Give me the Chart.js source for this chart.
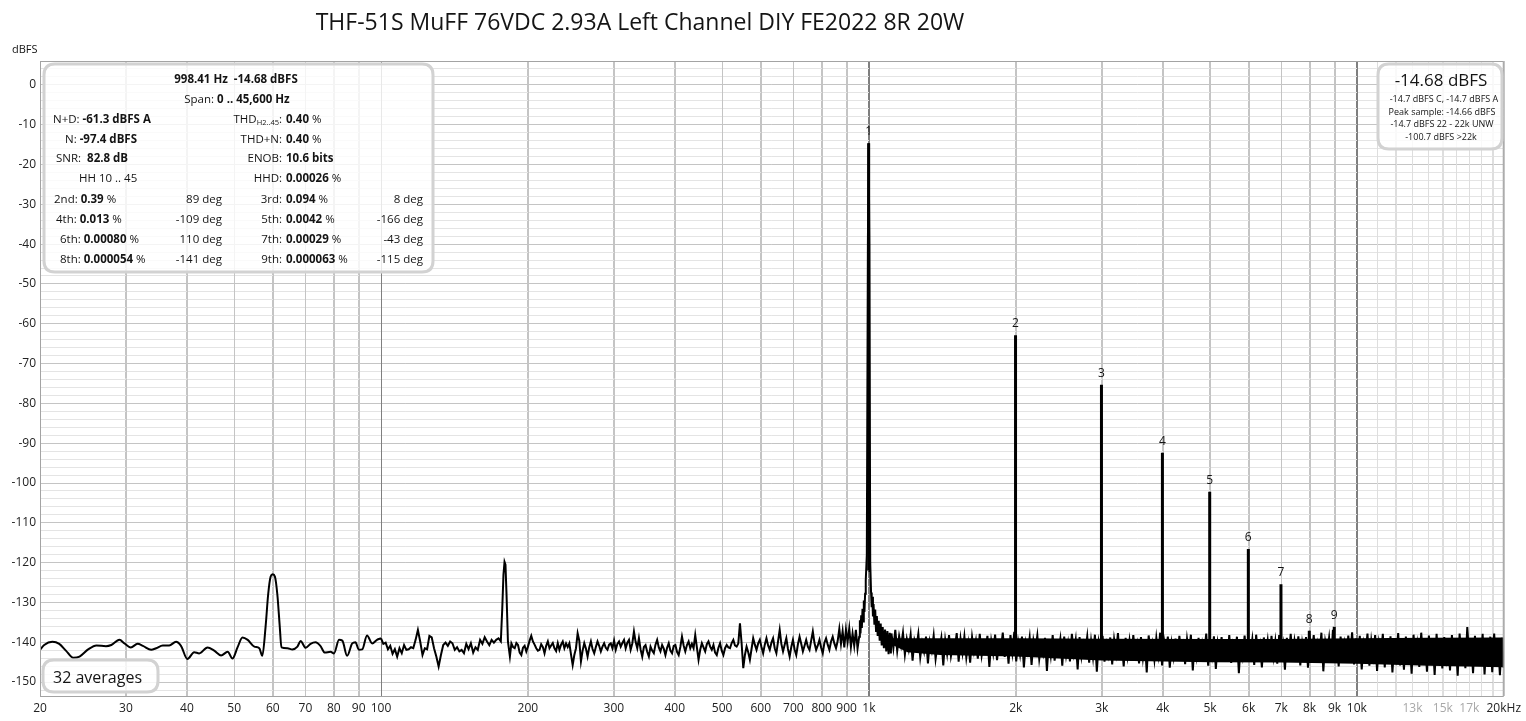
<!DOCTYPE html>
<html><head><meta charset="utf-8">
<script src="https://cdn.jsdelivr.net/npm/chart.js@4.4.1/dist/chart.umd.min.js"></script>
<style>html,body{margin:0;padding:0;background:#fff;overflow:hidden}canvas{display:block}</style>
</head><body>
<canvas id="c" width="1526" height="721"></canvas>
<script>
const titleText = "THF-51S MuFF 76VDC 2.93A Left Channel DIY FE2022 8R 20W";
const yUnit = "dBFS";

const yTickDb = [-152,-150,-148,-146,-144,-142,-140,-138,-136,-134,-132,-130,-128,-126,-124,-122,-120,-118,-116,-114,-112,-110,-108,-106,-104,-102,-100,-98,-96,-94,-92,-90,-88,-86,-84,-82,-80,-78,-76,-74,-72,-70,-68,-66,-64,-62,-60,-58,-56,-54,-52,-50,-48,-46,-44,-42,-40,-38,-36,-34,-32,-30,-28,-26,-24,-22,-20,-18,-16,-14,-12,-10,-8,-6,-4,-2,0,2,4,6];
const xTickHz = [20,30,40,50,60,70,80,90,100,200,300,400,500,600,700,800,900,1000,2000,3000,4000,5000,6000,7000,8000,9000,10000,11000,12000,13000,14000,15000,16000,17000,18000,19000,20000];
const xTickLabels = ["20","30","40","50","60","70","80","90","100","200","300","400","500","600","700","800","900","1k","2k","3k","4k","5k","6k","7k","8k","9k","10k","","","13k","","15k","","17k","","","20kHz"];
const xTickMutedHz = [13000,15000,17000];
const xDecadeHz = [100,1000,10000];
const xFineHz = [11000,12000,13000,14000,15000,16000,17000,18000,19000];

// 20..100 Hz (smooth part, incl. 60 Hz hum)
const lowHz = [20,20.4,21.2,21.9,22.6,23.4,24.1,25.1,26.1,27.3,28,29.1,29.8,30.7,31.7,32.5,33.8,34.6,35.7,36.8,38,38.9,40.1,41.4,42.4,44.1,45.5,47,48.5,49.6,50.8,52,53.3,55,56.3,57.1,58,58.7,59.4,60,60.6,61.3,62,62.5,64.3,65.8,67.4,68.4,70.1,71.7,73.4,75.1,76.7,78.8,80.1,82,83.3,85.2,87.3,88.6,90.1,91.5,93.6,95.9,98.1,100];
const lowDb = [-141.9,-140.7,-139.9,-140.4,-142.1,-143.9,-143.6,-141.8,-140.8,-141.0,-140.7,-139.4,-140.3,-141.3,-140.4,-140.9,-141.9,-141.5,-140.8,-140.8,-139.9,-140.9,-144.2,-142.5,-142.8,-141.3,-142.1,-143.3,-142.4,-144.1,-141.3,-138.8,-139.4,-141.1,-141.5,-143.4,-136,-128,-123.5,-122.9,-123.5,-128,-136,-141.3,-141.5,-141.8,-141.1,-139.7,-141.4,-140.4,-140.0,-140.9,-142.6,-142.4,-142.8,-139.4,-139.6,-143.4,-140.3,-140.0,-141.9,-141.8,-138.3,-140.3,-139.4,-139.0];

// 100..176 Hz, readings evenly spaced on the log axis
const mid1StartHz = 100, mid1EndHz = 176;
const mid1Db = [-139.0,-140.4,-140.1,-141.75,-140.9,-142.9,-141.75,-143.6,-141.5,-142.75,-140.7,-141.9,-141.75,-141.25,-141.5,-139.4,-136.9,-139.8,-143.2,-141.5,-141.75,-138.4,-138.75,-141.5,-143.6,-146.1,-143.2,-140.7,-140.1,-140.9,-139.8,-140.25,-141.9,-141.25,-142.3,-141.9,-142.75,-140.4,-141.75,-140.25,-142.6,-141.25,-141.9,-139.4,-140.4,-138.75,-139.8,-140.7,-139.4,-140.1,-139.4,-139.0,-139.8];

// 180 Hz hum
const humHz = [177.2,178.2,179.1,179.9,180.8,182,183.7];
const humDb = [-131.5,-123,-119.8,-120.5,-128,-139.8,-143.6];

// 185..955 Hz
const mid2StartHz = 185, mid2EndHz = 955;
const mid2Db = [
-140.3,-141.2,-141.5,-140.2,-140.7,-142.6,-143.2,-141.4,-140.9,-142.3,-141.1,-139.6,-138.4,
-139.8,-140.6,-141.5,-142.1,-141.9,-140.5,-141.2,-142.75,-140.9,-139.8,-141.5,-140.8,-140.2,-141.5,-142.2,-140.25,-141.9,-140.6,-139.8,-141.5,-140.3,-141.2,-140.25,-143.1,-145.7,
-143.2,-141.5,-137.75,-139.6,-144.8,-142.1,-140.25,-141.6,-143.6,-141.3,-139.8,-141.7,-142.75,-141.2,-139.8,-140.9,-142.3,-141.1,-140.25,-141.4,-141.9,-140.6,-140.3,-141.5,-139.6,
-141.9,-140.4,-139.8,-141.1,-140.2,-139.4,-141.5,-140.1,-139.4,-141.9,-140.3,-137.3,-139.9,-141.5,-139.0,-141.8,-143.6,-141.2,-140.7,-142.4,-143.6,-141.1,-142.1,-142.75,-140.6,-139.4,-141.3,-142.3,-140.7,-141.6,-143.2,-141.4,-140.25,-142.1,-142.75,-140.9,-140.7,-142.4,-143.2,
-141.2,-138.6,-140.8,-142.3,-140.7,-139.8,-141.5,-140.4,-141.5,-138.2,-141.3,-144.4,-141.9,-140.25,-141.3,-142.3,-140.5,-139.8,-141.1,-141.9,-140.7,-142.6,-143.2,-141.4,-140.25,-142.1,-143.2,-141.5,-140.7,-141.3,-141.5,-140.2,-139.4,-140.8,-141.1,-140.3,-135.25,
-140.25,-146.5,-143.2,-141.1,-142.5,-144.4,-141.7,-139.0,-140.6,-141.9,-140.3,-139.4,-141.2,-142.75,-140.6,-139.0,-140.8,-141.9,-140.1,-139.0,-141.5,-142.75,-139.8,-136.9,-140.4,-142.3,-140.6,-139.0,-141.7,-143.6,-141.2,-139.4,-141.8,-143.2,-140.5,-138.6,
-140.4,-142.3,-140.9,-139.4,-141.1,-141.9,-139.6,-137.3,-140.2,-141.9,-140.8,-139.4,-141.3,-142.75,-140.1,-139.0,-140.6,-141.9,-139.8,-138.6,-140.3,-141.5,-139.7,-136.6,-140.4,-137.2,-141.3,-136.8,-139.9,-136.5,-141.2,-137.8,-140.9,-136.9,-141.6,-138.6];

// fundamental with its skirt
const fundHz = [958,961,964,967,970,973,976,979,982,985,990,995,998.41,1002,1006,1010,1013,1016,1019,1022,1026,1030,1034,1038,1042,1047,1052,1057,1062,1067,1073,1079,1085,1091,1097,1103,1109];
const fundDb = [-134.5,-137.8,-133.2,-136.4,-131.6,-134.8,-129.5,-132.4,-127.8,-124.5,-118,-40,-14.68,-40,-120,-127.5,-131.2,-128.6,-133.5,-130.4,-135.6,-131.8,-137.2,-133.4,-138.4,-134.6,-139.6,-135.3,-140.8,-136.2,-141.5,-136.8,-142.3,-137.2,-143.0,-137.6,-142.8];

// 1.11k..20k noise floor
const highStartHz = 1112, highEndHz = 20000;
const highDb = [
-137.8,-141.5,-136.9,-142.2,-138.4,-140.9,-137.6,-143.1,-139.2,-141.8,
-138.1,-144.6,-139.5,-141.2,-137.9,-143.8,-140.1,-142.4,-138.6,-145.3,
-139.8,-142.1,-138.3,-144.2,-140.6,-141.7,-138.9,-145.8,-139.4,-142.9,
-138.2,-143.5,-140.8,-141.6,-137.7,-144.9,-139.1,-142.7,-138.5,-143.9,
-140.3,-145.1,-138.7,-142.3,-139.6,-144.1,-137.9,-143.3,-140.2,-141.9,
-138.4,-146.2,-139.7,-142.8,-138.1,-144.5,-140.4,-141.8,-137.6,-143.7,
-139.3,-145.4,-138.2,-142.6,-137.4,-144.8,-139.9,-143.1,-138.6,-146.3,
-140.1,-142.4,-138.8,-145.7,-139.5,-141.9,-138.3,-144.2,-140.7,-142.9,
-138.9,-147.2,-139.8,-143.4,-138.2,-144.6,-140.5,-142.1,-139.1,-145.9,
-138.6,-143.3,-140.2,-144.8,-137.9,-142.7,-139.4,-146.8,-138.7,-143.6,
-140.3,-142.2,-138.5,-145.1,-139.7,-143.8,-138.1,-147.4,-139.9,-142.5,
-138.4,-144.9,-140.6,-143.2,-138.8,-145.6,-139.3,-142.8,-137.7,-144.3,
-140.1,-146.1,-138.9,-143.5,-139.6,-144.7,-138.2,-142.9,-140.4,-145.3,
-138.7,-143.9,-139.5,-147.6,-138.3,-142.6,-140.2,-144.4,-138.9,-143.1,
-137.6,-145.8,-139.4,-142.3,-138.6,-146.4,-140.3,-143.7,-139.1,-144.2,
-138.4,-143.1,-140.7,-145.5,-139.2,-142.8,-138.1,-147.1,-139.8,-143.6,
-138.9,-144.9,-140.2,-142.4,-137.8,-145.9,-139.6,-143.3,-138.5,-146.7,
-140.1,-142.9,-138.7,-144.6,-139.3,-143.8,-138.2,-145.2,-140.5,-142.7,
-138.6,-147.8,-139.9,-143.4,-138.3,-144.5,-140.4,-142.6,-139.2,-145.7,
-138.1,-143.2,-140.6,-146.3,-138.8,-142.9,-139.5,-144.8,-138.4,-143.6,
-139.7,-145.4,-138.2,-142.8,-140.3,-146.9,-138.9,-143.5,-137.9,-144.3,
-139.6,-142.7,-138.5,-145.8,-140.1,-143.2,-138.7,-146.4,-139.3,-142.9,
-138.2,-144.6,-140.4,-143.1,-137.6,-147.3,-139.8,-142.5,-138.9,-145.2,
-136.9,-143.7,-139.4,-146.1,-138.6,-142.8,-140.2,-144.9,-138.3,-143.4,
-137.5,-145.6,-139.1,-143.2,-138.4,-146.8,-140.3,-142.7,-137.8,-145.9,
-139.6,-143.4,-138.2,-147.2,-140.1,-142.9,-137.9,-146.3,-139.4,-144.1,
-138.5,-147.6,-139.9,-143.6,-137.7,-145.8,-140.2,-146.9,-138.6,-143.2,
-139.2,-147.9,-138.1,-144.5,-140.5,-146.2,-137.6,-143.8,-139.7,-147.4,
-138.3,-145.1,-139.8,-148.2,-137.9,-144.3,-140.1,-146.6,-138.7,-143.9,
-139.5,-147.1,-138.2,-145.4,-140.3,-148.4,-137.8,-144.2,-139.6,-146.5,
-136.2,-143.6,-139.1,-147.8,-138.4,-145.9,-140.2,-144.7,-137.9,-148.1,
-139.3,-146.2,-138.6,-147.5,-137.8,-144.9,-139.7,-148.3,-138.9,-146.4];

// solid core of the dense noise band
const coreHz = [1110,1200,1400,2000,3000,5000,7000,10000,14000,20000];
const coreTopDb = [-139.0,-139.0,-139.0,-139.0,-139.1,-139.2,-139.2,-139.0,-138.9,-138.8];
const coreBotDb = [-140.5,-142.5,-143.2,-143.6,-144.6,-145.0,-145.1,-145.4,-145.9,-146.3];

// harmonics
const harmonicHz = [998.41,1996.8,2995.2,3993.6,4992.1,5990.5,6988.9,7987.3,8985.7];
const harmonicDb = [-14.68,-62.9,-75.3,-92.4,-102.2,-116.6,-125.4,-137.1,-136.1];
const harmonicLabels = ["1","2","3","4","5","6","7","8","9"];
const harmonicBaseDb = -141;
const fundBaseDb = -122;

const FONT = '"Open Sans","Noto Sans",sans-serif';
const INK = '#141414';
function font(size, bold){ return (bold ? 'bold ' : '') + size + 'px ' + FONT; }

function pairPoints(hz, db){ return hz.map((f,i)=>({x:f, y:db[i]})); }
function evenLogPoints(a, b, vals){
  const la = Math.log10(a), lb = Math.log10(b), n = vals.length;
  return vals.map((v,i)=>({x: Math.pow(10, la + (lb-la)*i/(n-1)), y: v}));
}
const mainTrace = [].concat(
  evenLogPoints(mid1StartHz, mid1EndHz, mid1Db),
  pairPoints(humHz, humDb),
  evenLogPoints(mid2StartHz, mid2EndHz, mid2Db),
  pairPoints(fundHz, fundDb),
  evenLogPoints(highStartHz, highEndHz, highDb)
);
const spikes = [];
for (let i = 0; i < harmonicHz.length; i++){
  const f = harmonicHz[i];
  const base = i === 0 ? fundBaseDb : harmonicBaseDb;
  spikes.push({x:f*0.9996, y:base}, {x:f, y:harmonicDb[i]}, {x:f*1.0004, y:base}, {x:f*1.001, y:null});
}

function drawRuns(ctx, runs, x, yc, align, size, color){
  let w = 0;
  runs.forEach(r=>{ ctx.font = font(r.s||size, r.b); w += ctx.measureText(r.t).width; });
  let cx = align==='left' ? x : (align==='right' ? x - w : x - w/2);
  ctx.textAlign = 'left'; ctx.textBaseline = 'alphabetic';
  ctx.fillStyle = color || INK;
  runs.forEach(r=>{
    const s = r.s||size;
    ctx.font = font(s, r.b);
    ctx.fillText(r.t, cx, yc + 0.36*size + (r.dy||0));
    cx += ctx.measureText(r.t).width;
  });
}
function roundRect(ctx, x, y, w, h, r){
  ctx.beginPath();
  ctx.moveTo(x+r, y); ctx.lineTo(x+w-r, y); ctx.quadraticCurveTo(x+w, y, x+w, y+r);
  ctx.lineTo(x+w, y+h-r); ctx.quadraticCurveTo(x+w, y+h, x+w-r, y+h);
  ctx.lineTo(x+r, y+h); ctx.quadraticCurveTo(x, y+h, x, y+h-r);
  ctx.lineTo(x, y+r); ctx.quadraticCurveTo(x, y, x+r, y); ctx.closePath();
}
function box(ctx, x, y, w, h){
  roundRect(ctx, x, y, w, h, 11);
  ctx.fillStyle = 'rgba(255,255,255,0.82)'; ctx.fill();
  ctx.lineWidth = 3; ctx.strokeStyle = '#d2d2d2'; ctx.stroke();
}
function xGridColor(v){
  if (xDecadeHz.includes(v)) return '#7f7f7f';
  if (xFineHz.includes(v)) return '#dedede';
  return '#c4c4c4';
}

const overlay = {
  id: 'overlay',
  beforeDatasetsDraw(chart){
    const ctx = chart.ctx, xs = chart.scales.x, a = chart.chartArea;
    ctx.save(); ctx.lineWidth = 1;
    xTickHz.forEach(v=>{
      const px = Math.round(xs.getPixelForValue(v)) + 0.5;
      ctx.strokeStyle = xGridColor(v);
      ctx.beginPath(); ctx.moveTo(px, a.top); ctx.lineTo(px, a.bottom); ctx.stroke();
    });
    ctx.restore();
  },
  afterDatasetsDraw(chart){
    const ctx = chart.ctx, xs = chart.scales.x, ys = chart.scales.y, a = chart.chartArea;
    ctx.save();
    ctx.strokeStyle = '#a3a3a3'; ctx.lineWidth = 1;
    ctx.strokeRect(a.left + 0.5, a.top + 0.5, a.right - a.left - 1, a.bottom - a.top);
    ctx.fillStyle = INK;
    ctx.font = font(12, false); ctx.textAlign = 'center'; ctx.textBaseline = 'alphabetic';
    for (let i = 0; i < harmonicHz.length; i++){
      const px = xs.getPixelForValue(harmonicHz[i]);
      const py = ys.getPixelForValue(harmonicDb[i]);
      ctx.fillText(harmonicLabels[i], px, py - 8);
    }
    ctx.restore();
  },
  afterDraw(chart){
    const ctx = chart.ctx;
    ctx.save();
    drawRuns(ctx, [{t:titleText}], 640, 22, 'center', 23);
    drawRuns(ctx, [{t:yUnit}], 12, 49, 'left', 11);

    box(ctx, 44, 64, 389, 208);
    const S = 11.5;
    drawRuns(ctx, [{t:'998.41 Hz  -14.68 dBFS', b:true}], 236, 79, 'center', S);
    drawRuns(ctx, [{t:'Span: '},{t:'0 .. 45,600 Hz', b:true}], 237, 99, 'center', S);
    drawRuns(ctx, [{t:'N+D: '},{t:'-61.3 dBFS A', b:true}], 53, 119, 'left', S);
    drawRuns(ctx, [{t:'N: '},{t:'-97.4 dBFS', b:true}], 65, 139, 'left', S);
    drawRuns(ctx, [{t:'SNR:  '},{t:'82.8 dB', b:true}], 56, 158, 'left', S);
    drawRuns(ctx, [{t:'HH 10 .. 45'}], 79, 178, 'left', S);
    const rl = 282, rv = 286;
    drawRuns(ctx, [{t:'THD'},{t:'H2..45', s:7.5, dy:1.5},{t:':'}], rl, 119, 'right', S);
    drawRuns(ctx, [{t:'0.40', b:true},{t:' %'}], rv, 119, 'left', S);
    drawRuns(ctx, [{t:'THD+N:'}], rl, 139, 'right', S);
    drawRuns(ctx, [{t:'0.40', b:true},{t:' %'}], rv, 139, 'left', S);
    drawRuns(ctx, [{t:'ENOB:'}], rl, 158, 'right', S);
    drawRuns(ctx, [{t:'10.6 bits', b:true}], rv, 158, 'left', S);
    drawRuns(ctx, [{t:'HHD:'}], rl, 178, 'right', S);
    drawRuns(ctx, [{t:'0.00026', b:true},{t:' %'}], rv, 178, 'left', S);
    const hRows = [
      ['2nd: ','0.39',54,'89 deg','3rd:','0.094','8 deg',199],
      ['4th: ','0.013',56,'-109 deg','5th:','0.0042','-166 deg',219],
      ['6th: ','0.00080',60,'110 deg','7th:','0.00029','-43 deg',239],
      ['8th: ','0.000054',60,'-141 deg','9th:','0.000063','-115 deg',259]
    ];
    hRows.forEach(r=>{
      drawRuns(ctx, [{t:r[0]},{t:r[1], b:true},{t:' %'}], r[2], r[7], 'left', S);
      drawRuns(ctx, [{t:r[3]}], 222, r[7], 'right', S);
      drawRuns(ctx, [{t:r[4]}], rl, r[7], 'right', S);
      drawRuns(ctx, [{t:r[5], b:true},{t:' %'}], rv, r[7], 'left', S);
      drawRuns(ctx, [{t:r[6]}], 423, r[7], 'right', S);
    });

    box(ctx, 1378, 64, 124, 85);
    drawRuns(ctx, [{t:'-14.68 dBFS'}], 1441, 80, 'center', 17);
    drawRuns(ctx, [{t:'-14.7 dBFS C, -14.7 dBFS A'}], 1444, 99, 'center', 9);
    drawRuns(ctx, [{t:'Peak sample: -14.66 dBFS'}], 1442, 111.5, 'center', 9);
    drawRuns(ctx, [{t:'-14.7 dBFS 22 - 22k UNW'}], 1442, 124, 'center', 9);
    drawRuns(ctx, [{t:'-100.7 dBFS >22k'}], 1441, 136.5, 'center', 9);

    box(ctx, 43, 660, 115, 32);
    drawRuns(ctx, [{t:'32 averages'}], 53, 677, 'left', 16);
    ctx.restore();
  }
};

new Chart(document.getElementById('c'), {
  type: 'line',
  data: {
    datasets: [
      {data: pairPoints(lowHz, lowDb), borderColor:'#000', borderWidth:2, pointRadius:0, cubicInterpolationMode:'monotone', tension:0.4, fill:false},
      {data: mainTrace, borderColor:'#000', borderWidth:2, pointRadius:0, tension:0, fill:false},
      {data: spikes, borderColor:'#000', borderWidth:3, pointRadius:0, tension:0, spanGaps:false, fill:false},
      {data: pairPoints(coreHz, coreTopDb), borderWidth:0, borderColor:'rgba(0,0,0,0)', backgroundColor:'#000', pointRadius:0, fill:'+1'},
      {data: pairPoints(coreHz, coreBotDb), borderWidth:0, borderColor:'rgba(0,0,0,0)', pointRadius:0, fill:false}
    ]
  },
  options: {
    responsive: false, animation: false, devicePixelRatio: 1,
    layout: {padding: {top: 61, right: 19, left: 0, bottom: 0}},
    plugins: {legend: {display: false}, tooltip: {enabled: false}, title: {display: false}},
    scales: {
      x: {
        type: 'logarithmic', min: 20, max: 20000,
        afterBuildTicks: s => { s.ticks = xTickHz.map(v => ({value: v})); },
        afterFit: s => { s.height = 25; },
        border: {display: false},
        grid: {drawTicks: false, lineWidth: 1, color: c => xGridColor(c.tick ? c.tick.value : 0)},
        ticks: {autoSkip: false, maxRotation: 0, minRotation: 0, padding: 5,
          font: {family: FONT, size: 12},
          color: c => (c.tick && xTickMutedHz.includes(c.tick.value)) ? '#a8a8a8' : '#222',
          callback: (v, i) => xTickLabels[i]}
      },
      y: {
        type: 'linear', min: -153.5, max: 6,
        afterBuildTicks: s => { s.ticks = yTickDb.map(v => ({value: v})); },
        afterFit: s => { s.width = 40; },
        border: {display: false},
        grid: {drawTicks: false, lineWidth: 1, color: c => {
          const v = c.tick ? c.tick.value : 1;
          return (v % 10 === 0) ? '#c4c4c4' : '#e4e4e4';
        }},
        ticks: {autoSkip: false, padding: 4, font: {family: FONT, size: 12}, color: '#222',
          callback: v => (v % 10 === 0) ? String(v) : ''}
      }
    }
  },
  plugins: [overlay]
});
</script>
</body></html>
